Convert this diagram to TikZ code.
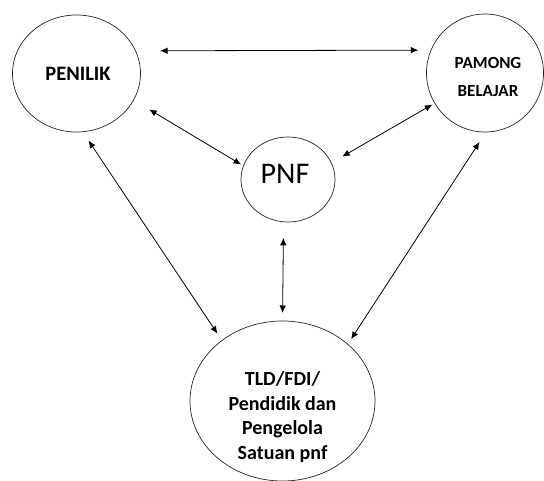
\documentclass[tikz,border=0pt]{standalone}
\usepackage{fontspec}
\setmainfont{Carlito}
\usetikzlibrary{arrows.meta,shapes.geometric}
\begin{document}
\begin{tikzpicture}[x=1pt,y=-1pt,
  bub/.style={draw=black!85, line width=0.7pt, ellipse, inner sep=0pt, outer sep=0pt},
  tip/.tip={Latex[length=7.5pt,width=6.5pt]},
  conn/.style={line width=0.8pt, tip-tip},
  lbl/.style={align=center, inner sep=0pt}]
\useasboundingbox (0,0) rectangle (544,481);
% bubbles
\node[bub, minimum width=128pt, minimum height=117pt] (pen) at (76.5,73.5) {};
\node[bub, minimum width=117pt, minimum height=118pt] (pam) at (485,73) {};
\node[bub, minimum width=94pt, minimum height=85pt] (pnf) at (288,179.5) {};
\node[bub, minimum width=185pt, minimum height=160pt] (bot) at (282.5,401) {};
% texts
\node[lbl, font=\bfseries\fontsize{20.5}{24}\selectfont] (penT) at (78,74) {PENILIK};
\node[lbl, font=\bfseries\fontsize{17}{28.5}\selectfont] (pamT) at (488,77) {PAMONG\\BELAJAR};
\node[lbl, font=\fontsize{30}{34}\selectfont] (pnfT) at (285,173.5) {PNF};
\node[lbl, font=\bfseries\fontsize{20}{24.5}\selectfont] (botT) at (282.5,417) {TLD/FDI/\\Pendidik dan\\Pengelola\\Satuan pnf};
% connectors
\draw[conn, shorten <=24.6pt, shorten >=12.8pt] (pen.21) -- (pam.157.6);
\draw[conn, shorten <=18.3pt, shorten >=2.7pt] (pen.-25.5) -- (pnf.163.7);
\draw[conn, shorten <=2.8pt, shorten >=12.7pt] (pam.-149.7) -- (pnf.21.7);
\draw[conn, shorten <=10.6pt, shorten >=8.2pt] (pen.-84) -- (bot.135.4);
\draw[conn, shorten <=16pt, shorten >=8pt] (pnf.-96.7) -- (bot.90);
\draw[conn, shorten <=11.9pt, shorten >=6.2pt] (pam.-89.5) -- (bot.41.1);
\end{tikzpicture}
\end{document}
